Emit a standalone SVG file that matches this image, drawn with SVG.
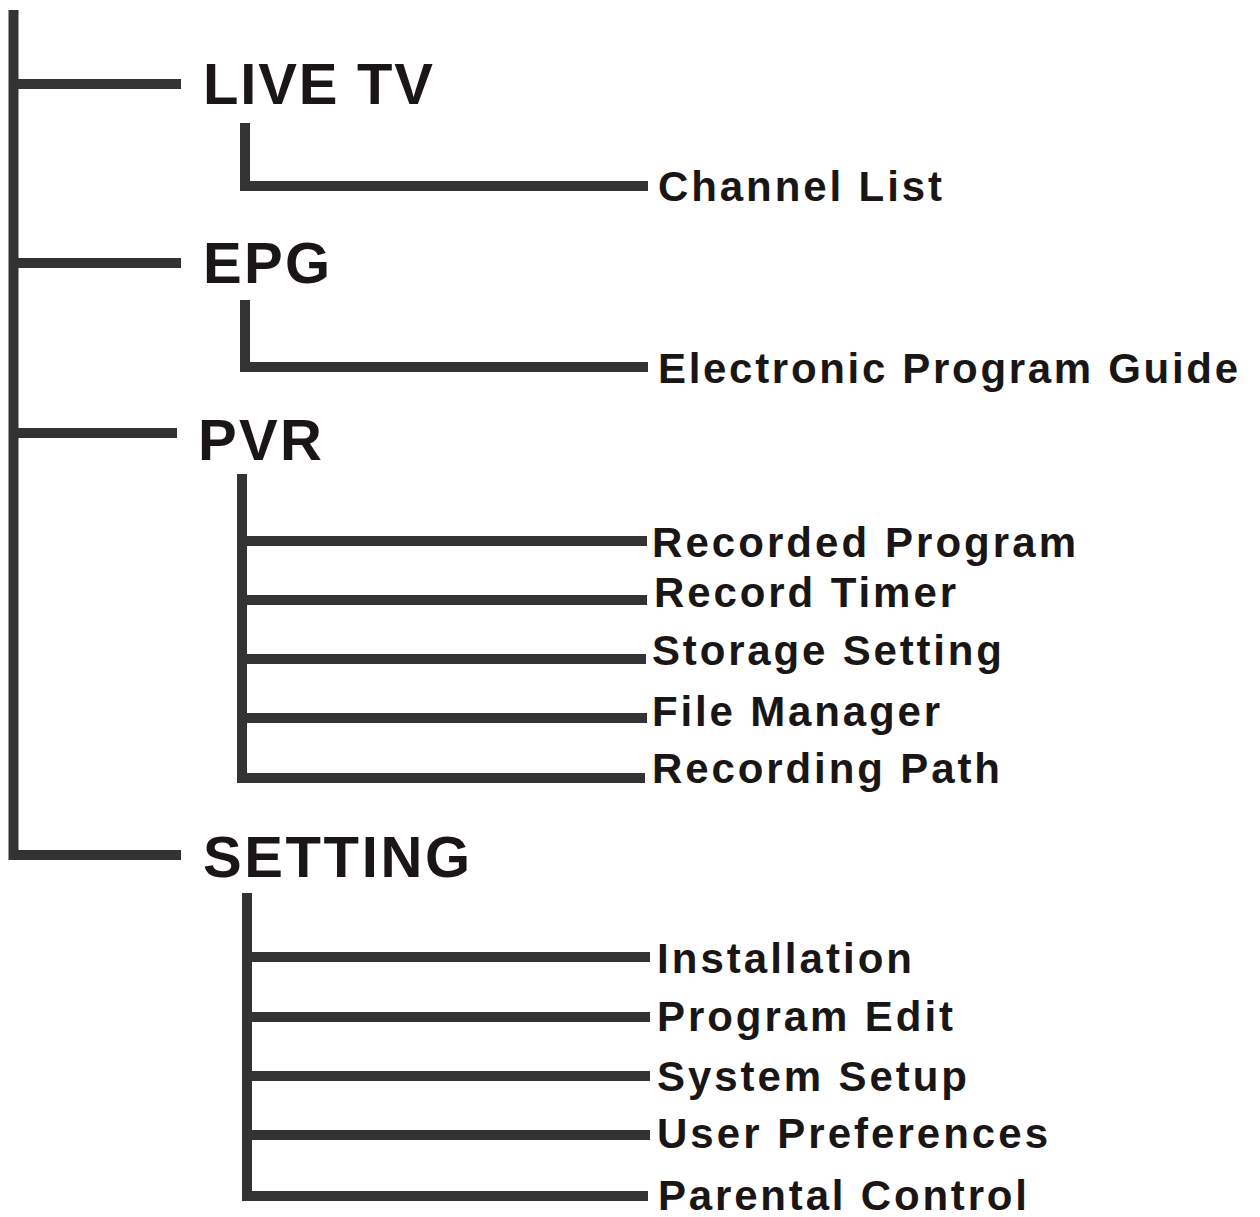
<svg xmlns="http://www.w3.org/2000/svg" width="1260" height="1217" viewBox="0 0 1260 1217">
<style>
.ln{fill:none;stroke:#333333;stroke-width:10;stroke-linecap:butt;stroke-linejoin:miter}
.h{font-family:"Liberation Sans",Arial,sans-serif;font-weight:bold;font-size:58px;fill:#1a1616}
.s{font-family:"Liberation Sans",Arial,sans-serif;font-weight:bold;font-size:42px;fill:#1a1616}
</style>
<rect width="1260" height="1217" fill="#ffffff"/>
<g id="connectors">
<path class="ln" d="M13.5,10 V855 H181"/>
<path class="ln" d="M13.5,84 H181"/>
<path class="ln" d="M13.5,263 H181"/>
<path class="ln" d="M13.5,433 H177"/>
<path class="ln" d="M245,123 V186 H648"/>
<path class="ln" d="M245,300 V367 H648"/>
<path class="ln" d="M242,474 V778 H645"/>
<path class="ln" d="M242,541 H647"/>
<path class="ln" d="M242,600 H647"/>
<path class="ln" d="M242,659 H646"/>
<path class="ln" d="M242,718 H647"/>
<path class="ln" d="M247,893 V1196 H648"/>
<path class="ln" d="M247,957 H650"/>
<path class="ln" d="M247,1017 H650"/>
<path class="ln" d="M247,1076 H650"/>
<path class="ln" d="M247,1135 H650"/>
</g>
<g id="live-tv"><text class="h" x="203" y="104" textLength="230" lengthAdjust="spacing">LIVE TV</text></g>
<g id="epg"><text class="h" x="203" y="283" textLength="127" lengthAdjust="spacing">EPG</text></g>
<g id="pvr"><text class="h" x="198" y="460" textLength="124" lengthAdjust="spacing">PVR</text></g>
<g id="setting"><text class="h" x="203" y="877" textLength="267" lengthAdjust="spacing">SETTING</text></g>
<g id="channel-list"><text class="s" x="658" y="201" textLength="284" lengthAdjust="spacing">Channel List</text></g>
<g id="electronic-program-guide"><text class="s" x="658" y="383" textLength="580" lengthAdjust="spacing">Electronic Program Guide</text></g>
<g id="recorded-program"><text class="s" x="652" y="557" textLength="424" lengthAdjust="spacing">Recorded Program</text></g>
<g id="record-timer"><text class="s" x="654" y="607" textLength="302" lengthAdjust="spacing">Record Timer</text></g>
<g id="storage-setting"><text class="s" x="652" y="665" textLength="350" lengthAdjust="spacing">Storage Setting</text></g>
<g id="file-manager"><text class="s" x="652" y="726" textLength="288" lengthAdjust="spacing">File Manager</text></g>
<g id="recording-path"><text class="s" x="652" y="783" textLength="348" lengthAdjust="spacing">Recording Path</text></g>
<g id="installation"><text class="s" x="657" y="973" textLength="255" lengthAdjust="spacing">Installation</text></g>
<g id="program-edit"><text class="s" x="657" y="1031" textLength="296" lengthAdjust="spacing">Program Edit</text></g>
<g id="system-setup"><text class="s" x="657" y="1091" textLength="310" lengthAdjust="spacing">System Setup</text></g>
<g id="user-preferences"><text class="s" x="657" y="1148" textLength="391" lengthAdjust="spacing">User Preferences</text></g>
<g id="parental-control"><text class="s" x="658" y="1210" textLength="369" lengthAdjust="spacing">Parental Control</text></g>
</svg>
